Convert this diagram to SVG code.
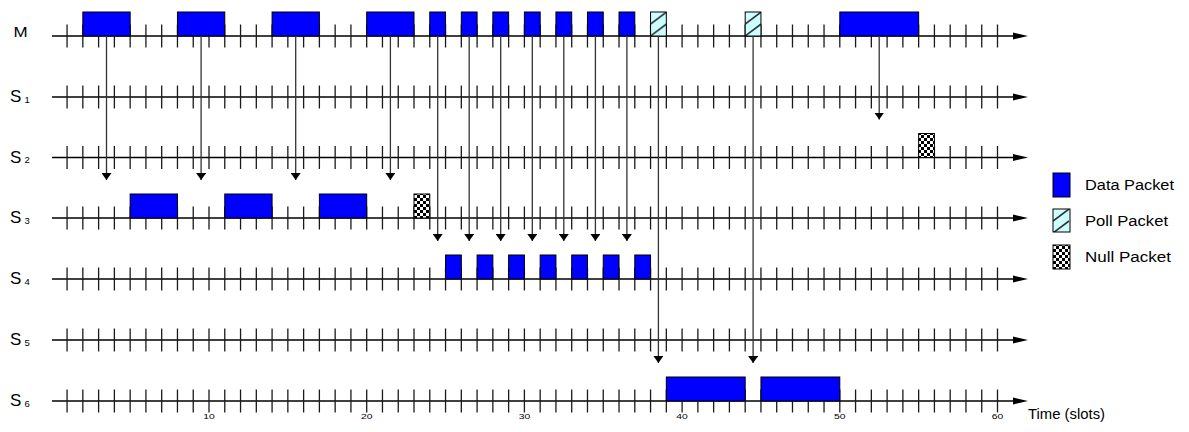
<svg xmlns="http://www.w3.org/2000/svg" xmlns:xlink="http://www.w3.org/1999/xlink" width="1189" height="432" viewBox="0 0 1189 432">
<style>
.ax{stroke:#000;stroke-width:1.4;fill:none}
.tk{stroke:#1a1a1a;stroke-width:1.3;fill:none}
.data{fill:#0000ff;stroke:#000;stroke-width:1}
.poll{fill:url(#pollP);stroke:#000;stroke-width:1}
.null{fill:url(#nullP);stroke:#000;stroke-width:1}
.con{stroke:#333;stroke-width:1.3;fill:none;marker-end:url(#ah)}
.lbl{font-family:"Liberation Sans",Arial,sans-serif;font-size:17px;fill:#000}
.sub{font-family:"Liberation Sans",Arial,sans-serif;font-size:9.5px;fill:#000}
.num{font-family:"Liberation Sans",Arial,sans-serif;font-size:9px;fill:#000;text-anchor:middle}
.leg{font-family:"Liberation Sans",Arial,sans-serif;font-size:14px;fill:#000}
</style>
<defs>
<marker id="ah" markerUnits="userSpaceOnUse" viewBox="0 0 7 10" refX="7" refY="5" markerWidth="7" markerHeight="10" orient="auto"><path d="M0,0L7,5L0,10z" fill="#000"/></marker>
<pattern id="nullP" patternUnits="userSpaceOnUse" width="6" height="6"><rect width="6" height="6" fill="#fff"/><rect width="3" height="3" fill="#000"/><rect x="3" y="3" width="3" height="3" fill="#000"/></pattern>
<pattern id="pollP" patternUnits="objectBoundingBox" x="0" y="0" width="1" height="1"><rect width="20" height="26" fill="#ccffff"/><path d="M0,12L16,0M0,24L16,12" stroke="#333" stroke-width="1.6"/></pattern>
<g id="axis">
<line class="ax" x1="52" y1="0" x2="1015" y2="0"/>
<polygon points="1013,-3.5 1028,0 1013,3.5" fill="#000"/>
<path class="tk" d="M67.07 -11.5v23M82.84 -11.5v23M98.61 -11.5v23M114.38 -11.5v23M130.15 -11.5v23M145.92 -11.5v23M161.69 -11.5v23M177.46 -11.5v23M193.23 -11.5v23M209 -11.5v23M224.77 -11.5v23M240.54 -11.5v23M256.31 -11.5v23M272.08 -11.5v23M287.85 -11.5v23M303.62 -11.5v23M319.39 -11.5v23M335.16 -11.5v23M350.93 -11.5v23M366.7 -11.5v23M382.47 -11.5v23M398.24 -11.5v23M414.01 -11.5v23M429.78 -11.5v23M445.55 -11.5v23M461.32 -11.5v23M477.09 -11.5v23M492.86 -11.5v23M508.63 -11.5v23M524.4 -11.5v23M540.17 -11.5v23M555.94 -11.5v23M571.71 -11.5v23M587.48 -11.5v23M603.25 -11.5v23M619.02 -11.5v23M634.79 -11.5v23M650.56 -11.5v23M666.33 -11.5v23M682.1 -11.5v23M697.87 -11.5v23M713.64 -11.5v23M729.41 -11.5v23M745.18 -11.5v23M760.95 -11.5v23M776.72 -11.5v23M792.49 -11.5v23M808.26 -11.5v23M824.03 -11.5v23M839.8 -11.5v23M855.57 -11.5v23M871.34 -11.5v23M887.11 -11.5v23M902.88 -11.5v23M918.65 -11.5v23M934.42 -11.5v23M950.19 -11.5v23M965.96 -11.5v23M981.73 -11.5v23M997.5 -11.5v23"/>
</g>
</defs>
<rect width="1189" height="432" fill="#fff"/>

<g id="row-M"><use xlink:href="#axis" transform="translate(0,36)"/><text class="lbl" font-size="16" transform="translate(13.5 36.7) scale(1 0.86)">M</text></g>
<g id="row-S1"><use xlink:href="#axis" transform="translate(0,97)"/><text class="lbl" x="10" y="102">S</text><text class="sub" x="24.5" y="102.5">1</text></g>
<g id="row-S2"><use xlink:href="#axis" transform="translate(0,157.5)"/><text class="lbl" x="10" y="162.5">S</text><text class="sub" x="24.5" y="163">2</text></g>
<g id="row-S3"><use xlink:href="#axis" transform="translate(0,218)"/><text class="lbl" x="10" y="223">S</text><text class="sub" x="24.5" y="223.5">3</text></g>
<g id="row-S4"><use xlink:href="#axis" transform="translate(0,279)"/><text class="lbl" x="10" y="284">S</text><text class="sub" x="24.5" y="284.5">4</text></g>
<g id="row-S5"><use xlink:href="#axis" transform="translate(0,340)"/><text class="lbl" x="10" y="345">S</text><text class="sub" x="24.5" y="345.5">5</text></g>
<g id="row-S6"><use xlink:href="#axis" transform="translate(0,401)"/><text class="lbl" x="10" y="406">S</text><text class="sub" x="24.5" y="406.5">6</text></g>

<g id="pk-M-d1"><rect class="data" x="82.84" y="12" width="47.31" height="24"/></g>
<g id="pk-M-d2"><rect class="data" x="177.46" y="12" width="47.31" height="24"/></g>
<g id="pk-M-d3"><rect class="data" x="272.08" y="12" width="47.31" height="24"/></g>
<g id="pk-M-d4"><rect class="data" x="366.7" y="12" width="47.31" height="24"/></g>
<g id="pk-M-s1"><rect class="data" x="429.78" y="12" width="15.77" height="24"/></g>
<g id="pk-M-s2"><rect class="data" x="461.32" y="12" width="15.77" height="24"/></g>
<g id="pk-M-s3"><rect class="data" x="492.86" y="12" width="15.77" height="24"/></g>
<g id="pk-M-s4"><rect class="data" x="524.4" y="12" width="15.77" height="24"/></g>
<g id="pk-M-s5"><rect class="data" x="555.94" y="12" width="15.77" height="24"/></g>
<g id="pk-M-s6"><rect class="data" x="587.48" y="12" width="15.77" height="24"/></g>
<g id="pk-M-s7"><rect class="data" x="619.02" y="12" width="15.77" height="24"/></g>
<g id="pk-M-p1"><rect class="poll" x="650.56" y="12" width="15.77" height="24"/></g>
<g id="pk-M-p2"><rect class="poll" x="745.18" y="12" width="15.77" height="24"/></g>
<g id="pk-M-d5"><rect class="data" x="839.8" y="12" width="78.85" height="24"/></g>

<g id="pk-S2-n"><rect class="null" x="918.65" y="133.5" width="15.77" height="24"/></g>

<g id="pk-S3-d1"><rect class="data" x="130.15" y="194" width="47.31" height="24"/></g>
<g id="pk-S3-d2"><rect class="data" x="224.77" y="194" width="47.31" height="24"/></g>
<g id="pk-S3-d3"><rect class="data" x="319.39" y="194" width="47.31" height="24"/></g>
<g id="pk-S3-n"><rect class="null" x="414.01" y="194" width="15.77" height="24"/></g>

<g id="pk-S4-s1"><rect class="data" x="445.55" y="255" width="15.77" height="24"/></g>
<g id="pk-S4-s2"><rect class="data" x="477.09" y="255" width="15.77" height="24"/></g>
<g id="pk-S4-s3"><rect class="data" x="508.63" y="255" width="15.77" height="24"/></g>
<g id="pk-S4-s4"><rect class="data" x="540.17" y="255" width="15.77" height="24"/></g>
<g id="pk-S4-s5"><rect class="data" x="571.71" y="255" width="15.77" height="24"/></g>
<g id="pk-S4-s6"><rect class="data" x="603.25" y="255" width="15.77" height="24"/></g>
<g id="pk-S4-s7"><rect class="data" x="634.79" y="255" width="15.77" height="24"/></g>

<g id="pk-S6-d1"><rect class="data" x="666.33" y="377" width="78.85" height="24"/></g>
<g id="pk-S6-d2"><rect class="data" x="760.95" y="377" width="78.85" height="24"/></g>

<g id="connectors">
<line class="con" x1="106.5" y1="36" x2="106.5" y2="180"/>
<line class="con" x1="201.1" y1="36" x2="201.1" y2="180"/>
<line class="con" x1="295.7" y1="36" x2="295.7" y2="180"/>
<line class="con" x1="390.4" y1="36" x2="390.4" y2="180"/>
<line class="con" x1="437.7" y1="36" x2="437.7" y2="241"/>
<line class="con" x1="469.2" y1="36" x2="469.2" y2="241"/>
<line class="con" x1="500.7" y1="36" x2="500.7" y2="241"/>
<line class="con" x1="532.3" y1="36" x2="532.3" y2="241"/>
<line class="con" x1="563.8" y1="36" x2="563.8" y2="241"/>
<line class="con" x1="595.4" y1="36" x2="595.4" y2="241"/>
<line class="con" x1="626.9" y1="36" x2="626.9" y2="241"/>
<line class="con" x1="658.4" y1="36" x2="658.4" y2="363"/>
<line class="con" x1="753.1" y1="36" x2="753.1" y2="363"/>
<line class="con" x1="879.2" y1="36" x2="879.2" y2="119.5"/>
</g>

<g id="axis-labels">
<text class="num" transform="translate(209 418.8) scale(1.15 0.75)">10</text>
<text class="num" transform="translate(366.7 418.8) scale(1.15 0.75)">20</text>
<text class="num" transform="translate(524.4 418.8) scale(1.15 0.75)">30</text>
<text class="num" transform="translate(682.1 418.8) scale(1.15 0.75)">40</text>
<text class="num" transform="translate(839.8 418.8) scale(1.15 0.75)">50</text>
<text class="num" transform="translate(997.5 418.8) scale(1.15 0.75)">60</text>
<text class="leg" x="1028" y="418.5" font-size="13" textLength="77" lengthAdjust="spacingAndGlyphs">Time (slots)</text>
</g>

<g id="legend">
<g id="leg-data"><rect class="data" x="1053" y="173" width="17" height="24"/><text class="leg" x="1085" y="190" textLength="89" lengthAdjust="spacingAndGlyphs">Data Packet</text></g>
<g id="leg-poll"><rect class="poll" x="1053" y="209" width="17" height="23"/><text class="leg" x="1085" y="226" textLength="83" lengthAdjust="spacingAndGlyphs">Poll Packet</text></g>
<g id="leg-null"><rect class="null" x="1053" y="245" width="17" height="24"/><text class="leg" x="1085" y="262" textLength="86" lengthAdjust="spacingAndGlyphs">Null Packet</text></g>
</g>
</svg>
